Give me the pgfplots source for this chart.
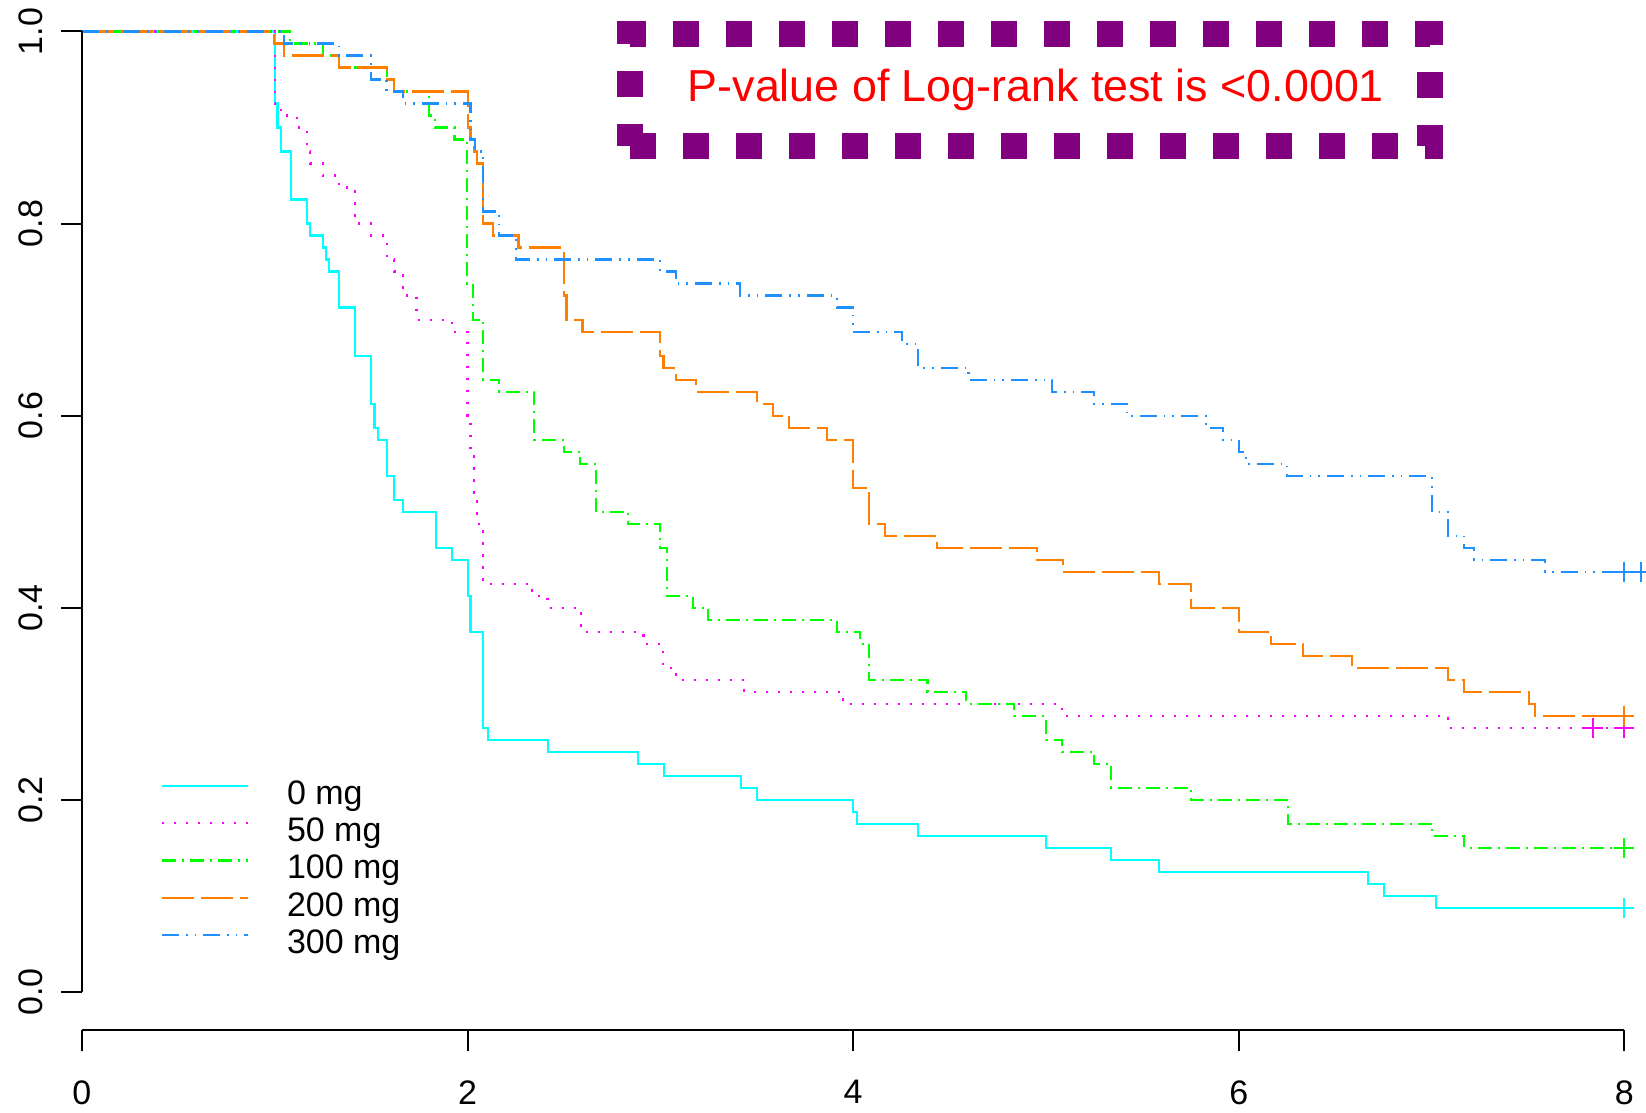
\documentclass[border=0pt]{standalone}
\usepackage{fontspec}
\setmainfont{Liberation Sans}
\usepackage{pgfplots}
\pgfplotsset{compat=1.18}
\definecolor{km0}{HTML}{00FFFF}
\definecolor{km50}{HTML}{FF00FF}
\definecolor{km100}{HTML}{00FF00}
\definecolor{km200}{HTML}{FF7F00}
\definecolor{km300}{HTML}{1E90FF}
\definecolor{boxpurple}{HTML}{800080}
\newcommand\ticksize{\fontsize{17}{20}\selectfont}
\pgfplotsset{
  km/.style={line width=1.15pt, const plot mark left, mark=none},
  lty50/.style={dash pattern=on 1.2pt off 4.8pt},
  lty100/.style={dash pattern=on 7pt off 3pt on 1pt off 3pt},
  lty200/.style={dash pattern=on 16pt off 3.5pt},
  lty300/.style={dash pattern=on 8.5pt off 3.5pt on 0.8pt off 3.5pt on 0.8pt off 3.5pt},
  cens/.style={only marks, mark=+, mark size=5pt, line width=1.15pt, mark options={solid}, forget plot},
}
\begin{document}
\begin{tikzpicture}
\begin{axis}[
  name=ax,
  scale only axis,
  width=782pt, height=515.2pt,
  xmin=0, xmax=8.1125, ymin=-0.04, ymax=1.0328,
  clip=false,
  axis x line*=bottom, axis y line*=left,
  axis line style={draw=none, -},
  xtick={0,2,4,6,8}, xticklabels={0,2,4,6,8},
  ytick={0,0.2,0.4,0.6,0.8,1}, yticklabels={0.0,0.2,0.4,0.6,0.8,1.0},
  minor tick num=0,
  tick align=outside,
  major tick length=10.5pt,
  tick style={black, line width=1pt},
  xticklabel style={font=\ticksize, anchor=north, inner sep=0pt},
  yticklabel style={font=\ticksize, rotate=90, anchor=south, inner sep=0pt},
  xticklabel shift=14.3pt,
  yticklabel shift=8.95pt,
  legend style={draw=none, fill=none, at={(0.0505,0.2434)}, anchor=north west,
    inner sep=0pt, outer sep=0pt, row sep=2.87pt, column sep=18.9pt,
    font=\ticksize,
    nodes={inner sep=0pt, outer sep=0pt, text height=12.2pt, text depth=3.6pt}},
  legend cell align=left,
  legend image code/.code={\draw[#1] (0pt,4.85pt) -- (43pt,4.85pt);},
]
% 0 mg
\addplot[km, km0] coordinates {
  (0,1) (1.0,0.925) (1.015,0.9) (1.031,0.875) (1.083,0.825) (1.166,0.8)
  (1.183,0.7875) (1.249,0.775) (1.266,0.7625) (1.283,0.75) (1.332,0.7125)
  (1.418,0.6625) (1.5,0.6125) (1.517,0.5875) (1.534,0.575) (1.584,0.5375)
  (1.619,0.5125) (1.667,0.5) (1.835,0.4625) (1.918,0.45) (2.001,0.4125)
  (2.016,0.375) (2.082,0.275) (2.107,0.2625) (2.419,0.25) (2.886,0.2375)
  (3.019,0.225) (3.419,0.2125) (3.5,0.2) (4.001,0.1875) (4.019,0.175)
  (4.335,0.1625) (5.0,0.15) (5.336,0.1375) (5.587,0.125) (6.672,0.1125)
  (6.754,0.1) (7.022,0.0875) (8.0,0.0875)
};
\addlegendentry{0 mg}
% 50 mg
\addplot[km, km50, lty50] coordinates {
  (0,1) (1.0,0.925) (1.031,0.9125) (1.114,0.9) (1.166,0.875) (1.183,0.8625)
  (1.249,0.85) (1.332,0.8375) (1.417,0.8) (1.5,0.7875) (1.581,0.7625)
  (1.619,0.75) (1.667,0.725) (1.736,0.7) (1.918,0.6875) (2.0,0.6)
  (2.016,0.5625) (2.034,0.5125) (2.051,0.4875) (2.082,0.425) (2.335,0.4125)
  (2.415,0.4) (2.59,0.375) (2.912,0.3625) (3.013,0.3375) (3.082,0.325)
  (3.435,0.3125) (3.949,0.3) (5.083,0.2875) (7.087,0.275) (8.0,0.275)
};
\addlegendentry{50 mg}
% 100 mg
\addplot[km, km100, lty100] coordinates {
  (0,1) (1.079,0.9875) (1.249,0.975) (1.333,0.9625) (1.581,0.95) (1.619,0.9375)
  (1.80,0.9125) (1.831,0.9) (1.932,0.8875) (1.999,0.7375) (2.03,0.7)
  (2.082,0.6375) (2.165,0.625) (2.345,0.575) (2.5,0.5625) (2.584,0.55)
  (2.666,0.5) (2.834,0.4875) (2.998,0.4625) (3.033,0.4125) (3.168,0.4)
  (3.249,0.3875) (3.915,0.375) (4.036,0.3625) (4.084,0.325) (4.385,0.3125)
  (4.586,0.3) (4.833,0.2875) (5.0,0.2625) (5.083,0.25) (5.251,0.2375)
  (5.338,0.2125) (5.753,0.2) (6.254,0.175) (7.003,0.1625) (7.169,0.15) (8.0,0.15)
};
\addlegendentry{100 mg}
% 200 mg
\addplot[km, km200, lty200] coordinates {
  (0,1) (0.998,0.9875) (1.05,0.975) (1.333,0.9625) (1.581,0.95) (1.619,0.9375)
  (2.001,0.9) (2.016,0.8875) (2.034,0.875) (2.051,0.8625) (2.082,0.8)
  (2.134,0.7875) (2.264,0.775) (2.5,0.725) (2.514,0.7) (2.597,0.6875)
  (3.0,0.6625) (3.016,0.65) (3.081,0.6375) (3.185,0.625) (3.503,0.6125)
  (3.583,0.6) (3.668,0.5875) (3.866,0.575) (3.998,0.525) (4.084,0.4875)
  (4.167,0.475) (4.434,0.4625) (4.952,0.45) (5.087,0.4375) (5.587,0.425)
  (5.754,0.4) (6.002,0.375) (6.169,0.3625) (6.335,0.35) (6.586,0.3375)
  (7.087,0.325) (7.17,0.3125) (7.504,0.3) (7.537,0.2875) (8.0,0.2875)
};
\addlegendentry{200 mg}
% 300 mg
\addplot[km, km300, lty300] coordinates {
  (0,1) (1.05,0.9875) (1.333,0.975) (1.5,0.95) (1.58,0.9375) (1.667,0.925)
  (2.016,0.8875) (2.04,0.875) (2.082,0.8125) (2.165,0.7875) (2.252,0.7625)
  (2.998,0.75) (3.081,0.7375) (3.415,0.725) (3.915,0.7125) (3.998,0.6875)
  (4.252,0.675) (4.335,0.65) (4.598,0.6375) (5.033,0.625) (5.251,0.6125)
  (5.419,0.6) (5.83,0.5875) (5.92,0.575) (6.002,0.5625) (6.036,0.55)
  (6.252,0.5375) (7.001,0.5) (7.087,0.475) (7.17,0.4625) (7.222,0.45)
  (7.587,0.4375) (8.087,0.4375)
};
\addlegendentry{300 mg}
% censoring marks
\addplot[cens, km0] coordinates {(8.0,0.0875)};
\addplot[cens, km50] coordinates {(7.836,0.275) (8.0,0.275)};
\addplot[cens, km100] coordinates {(8.0,0.15)};
\addplot[cens, km200] coordinates {(8.0,0.2875)};
\addplot[cens, km300] coordinates {(8.0,0.4375) (8.087,0.4375)};
% axis lines as R draws them
\draw[line width=1pt] (axis cs:0,0) -- (axis cs:0,1);
\draw[line width=1pt] (axis cs:0,-0.04) -- (axis cs:8,-0.04);
% annotation box
\draw[boxpurple, line width=13pt, dash pattern=on 13pt off 13.5pt]
  (axis cs:2.843,0.8808) -- (axis cs:6.992,0.8808) -- (axis cs:6.992,0.9974)
  -- (axis cs:2.843,0.9974) -- cycle;
\node[red, font=\fontsize{22.4}{26}\selectfont, anchor=base, inner sep=0pt]
  at (axis cs:4.948,0.9266) {P-value of Log-rank test is <0.0001};
\end{axis}
\pgfresetboundingbox
\path ([xshift=-40.95pt,yshift=-40.8pt]ax.south west) rectangle (ax.north east);
\end{tikzpicture}
\end{document}
